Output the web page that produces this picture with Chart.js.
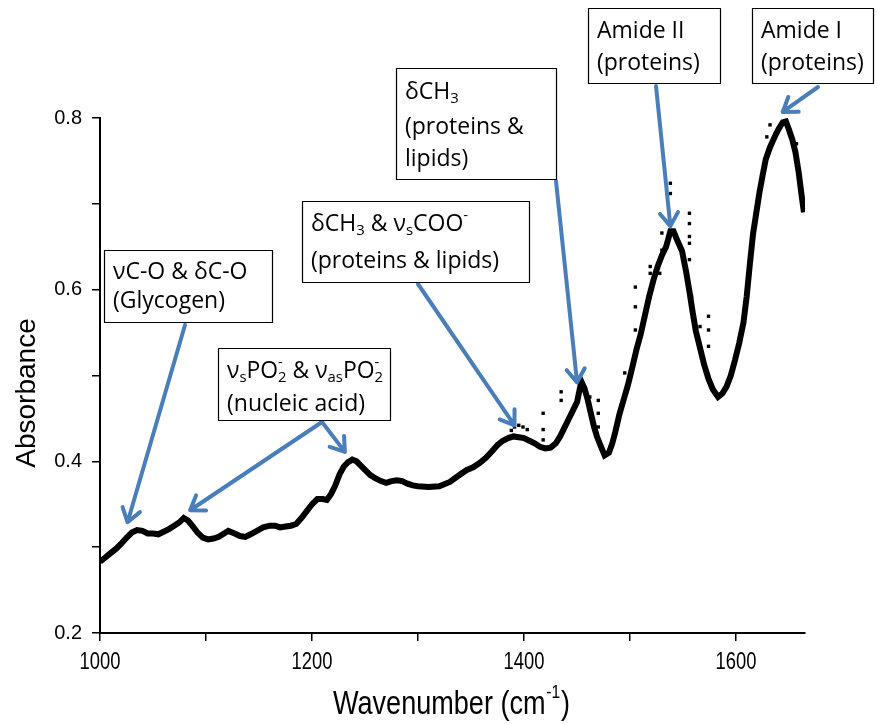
<!DOCTYPE html>
<html>
<head>
<meta charset="utf-8">
<script src="https://cdn.jsdelivr.net/npm/chart.js@4.4.0/dist/chart.umd.min.js"></script>
<style>
  body { margin: 0; background: #fff; }
  #wrap { width: 877px; height: 724px; }
</style>
</head>
<body>
<div id="wrap"><canvas id="myChart" width="877" height="724"></canvas></div>
<script>
// spectrum
const wavenumbers = [1000, 1005, 1010, 1015, 1020, 1025, 1030, 1035, 1040, 1045, 1050, 1055, 1060, 1065, 1070, 1075, 1079, 1083, 1087, 1092,
  1097, 1102, 1107, 1112, 1117, 1121, 1127, 1132, 1137, 1142, 1148, 1154, 1160, 1165, 1170, 1175, 1180, 1185, 1190, 1195,
  1200, 1205, 1210, 1214, 1218, 1222, 1226, 1230, 1234, 1238, 1242, 1246, 1250, 1255, 1260, 1265, 1270, 1275, 1280, 1285,
  1290, 1295, 1300, 1310, 1320, 1330, 1340, 1346, 1352, 1358, 1364, 1370, 1375, 1380, 1385, 1390, 1395, 1400, 1405, 1410,
  1415, 1420, 1425, 1430, 1434, 1438, 1442, 1446, 1450, 1454, 1457, 1460, 1463, 1466, 1469, 1472, 1476, 1480, 1483, 1486,
  1490, 1494, 1498, 1502, 1506, 1510, 1514, 1518, 1522, 1526, 1530, 1534, 1538, 1541, 1545, 1549, 1553, 1556, 1559, 1562,
  1566, 1570, 1574, 1578, 1583, 1587, 1591, 1595, 1599, 1603, 1607, 1610, 1613, 1616, 1619, 1622, 1625, 1628, 1632, 1636,
  1640, 1644, 1647, 1650, 1653, 1656, 1659, 1662, 1664];
const absorbance = [0.283, 0.288, 0.293, 0.298, 0.304, 0.311, 0.317, 0.320, 0.319, 0.316, 0.316, 0.315, 0.318, 0.321, 0.325, 0.329, 0.334, 0.331, 0.325, 0.317,
  0.311, 0.309, 0.310, 0.312, 0.316, 0.319, 0.316, 0.313, 0.312, 0.315, 0.319, 0.323, 0.325, 0.325, 0.323, 0.324, 0.325, 0.327, 0.334, 0.342,
  0.350, 0.356, 0.356, 0.355, 0.362, 0.372, 0.385, 0.394, 0.399, 0.402, 0.400, 0.395, 0.390, 0.384, 0.380, 0.377, 0.375, 0.377, 0.378, 0.377,
  0.374, 0.372, 0.371, 0.370, 0.371, 0.376, 0.385, 0.390, 0.393, 0.398, 0.404, 0.412, 0.419, 0.424, 0.427, 0.429, 0.428, 0.427, 0.424, 0.421,
  0.417, 0.415, 0.416, 0.421, 0.429, 0.439, 0.449, 0.459, 0.469, 0.493, 0.485, 0.472, 0.456, 0.440, 0.428, 0.419, 0.407, 0.410, 0.420, 0.434,
  0.455, 0.472, 0.489, 0.509, 0.530, 0.548, 0.570, 0.592, 0.611, 0.627, 0.640, 0.650, 0.668, 0.668, 0.656, 0.645, 0.620, 0.598, 0.574, 0.552,
  0.532, 0.512, 0.496, 0.484, 0.475, 0.479, 0.487, 0.500, 0.518, 0.538, 0.562, 0.592, 0.630, 0.665, 0.689, 0.713, 0.733, 0.752, 0.766, 0.777,
  0.787, 0.795, 0.796, 0.786, 0.775, 0.760, 0.737, 0.708, 0.690];

// stray points that sit off the main trace
const strayWavenumbers = [1388, 1391, 1395, 1399, 1403, 1418, 1418, 1418, 1435, 1435, 1462, 1462, 1470, 1470, 1470, 1495,
  1505, 1505, 1505, 1519, 1519, 1528, 1530, 1530, 1538, 1538, 1556, 1556, 1556, 1556, 1556, 1558, 1566, 1574, 1574, 1574,
  1629, 1632, 1637, 1657, 1660];
const strayAbsorbance = [0.436, 0.440, 0.442, 0.440, 0.437, 0.456, 0.437, 0.425, 0.481, 0.471, 0.475, 0.464, 0.471, 0.456, 0.440, 0.503,
  0.603, 0.580, 0.553, 0.627, 0.619, 0.619, 0.666, 0.646, 0.724, 0.712, 0.689, 0.677, 0.662, 0.654, 0.635, 0.592, 0.557, 0.569, 0.553, 0.534,
  0.778, 0.792, 0.782, 0.770, 0.732];

const xTickValues = [1000, 1100, 1200, 1300, 1400, 1500, 1600];
const xLabelValues = [1000, 1200, 1400, 1600];
const yTickValues = [0.2, 0.3, 0.4, 0.5, 0.6, 0.7, 0.8];
const yLabelValues = [0.2, 0.4, 0.6, 0.8];

const arrowColor = '#4A7EBB';
const boxFont = '"Open Sans", "Noto Sans", sans-serif';
const axisFont = '"Liberation Sans", Arial, sans-serif';

// label boxes (pixel layout) and the data points their arrows aim at
const boxes = [
  { left: 104, top: 250, right: 272, bottom: 322, lines: [['νC-O & δC-O', 272], ['(Glycogen)', 301]] },
  { left: 218, top: 348, right: 390, bottom: 420, lines: [['ν_{s}PO_{2}^{-} & ν_{as}PO_{2}^{-}', 371], ['(nucleic acid)', 404]] },
  { left: 302, top: 201, right: 529, bottom: 282, lines: [['δCH_{3} & ν_{s}COO^{-}', 224], ['(proteins & lipids)', 261]] },
  { left: 396, top: 68, right: 556, bottom: 179, lines: [['δCH_{3}', 92], ['(proteins &', 127], ['lipids)', 159]] },
  { left: 588, top: 8, right: 720, bottom: 83, lines: [['Amide II', 31], ['(proteins)', 63]] },
  { left: 752, top: 8, right: 873, bottom: 83, lines: [['Amide I', 31], ['(proteins)', 63]] }
];
const arrows = [
  { from: [185, 325], tip: [1026, 0.329] },
  { from: [322, 422], tip: [1085, 0.343] },
  { from: [322, 422], tip: [1231, 0.411] },
  { from: [418, 284], tip: [1391, 0.442] },
  { from: [556, 181], tip: [1450, 0.492] },
  { from: [656, 86], tip: [1538, 0.674] },
  { from: [818, 87], tip: [1644, 0.807] }
];

function richParts(text) {
  const re = /_\{([^}]*)\}|\^\{([^}]*)\}|([^_^]+)/g;
  const parts = [];
  let m;
  while ((m = re.exec(text)) !== null) {
    if (m[1] !== undefined) parts.push({ t: m[1], k: 'sub' });
    else if (m[2] !== undefined) parts.push({ t: m[2], k: 'sup' });
    else parts.push({ t: m[3], k: 'n' });
  }
  return parts;
}

// lays out (or measures) a line with subscripts/superscripts; returns its width
function drawRich(ctx, text, x, y, size, family, measureOnly) {
  let cx = x, lastSubX = null;
  ctx.textBaseline = 'middle';
  ctx.textAlign = 'left';
  richParts(text).forEach(p => {
    if (p.k === 'n') {
      ctx.font = size + 'px ' + family;
      if (!measureOnly) ctx.fillText(p.t, cx, y);
      cx += ctx.measureText(p.t).width;
      lastSubX = null;
    } else if (p.k === 'sub') {
      ctx.font = (size * 0.65) + 'px ' + family;
      if (!measureOnly) ctx.fillText(p.t, cx, y + size * 0.3);
      lastSubX = cx;
      cx += ctx.measureText(p.t).width;
    } else {
      ctx.font = (size * 0.65) + 'px ' + family;
      const w = ctx.measureText(p.t).width;
      const sx = lastSubX !== null ? lastSubX : cx;
      if (!measureOnly) ctx.fillText(p.t, sx, y - size * 0.38);
      cx = Math.max(cx, sx + w);
      lastSubX = null;
    }
  });
  return cx - x;
}

function drawArrow(ctx, x0, y0, x1, y1) {
  const ang = Math.atan2(y1 - y0, x1 - x0);
  const head = 16, spread = 0.6;
  ctx.beginPath();
  ctx.moveTo(x0, y0);
  ctx.lineTo(x1, y1);
  ctx.moveTo(x1 - head * Math.cos(ang - spread), y1 - head * Math.sin(ang - spread));
  ctx.lineTo(x1, y1);
  ctx.lineTo(x1 - head * Math.cos(ang + spread), y1 - head * Math.sin(ang + spread));
  ctx.stroke();
}

const notes = {
  id: 'notes',
  afterDraw(chart) {
    const { ctx, scales: { x, y } } = chart;
    ctx.save();
    ctx.strokeStyle = arrowColor;
    ctx.lineWidth = 4;
    ctx.lineCap = 'round';
    ctx.lineJoin = 'round';
    arrows.forEach(a => {
      drawArrow(ctx, a.from[0], a.from[1], x.getPixelForValue(a.tip[0]), y.getPixelForValue(a.tip[1]));
    });
    boxes.forEach(b => {
      ctx.fillStyle = '#fff';
      ctx.fillRect(b.left, b.top, b.right - b.left, b.bottom - b.top);
      ctx.strokeStyle = '#000';
      ctx.lineWidth = 1.2;
      ctx.strokeRect(b.left + 0.5, b.top + 0.5, b.right - b.left, b.bottom - b.top);
      ctx.fillStyle = '#000';
      const avail = b.right - b.left - 16;
      b.lines.forEach(l => {
        const size = 23;
        const w = drawRich(ctx, l[0], 0, 0, size, boxFont, true);
        const k = w > avail ? avail / w : 1;
        ctx.save();
        ctx.translate(b.left + 9, l[1]);
        ctx.scale(k, 1);
        drawRich(ctx, l[0], 0, 0, size, boxFont, false);
        ctx.restore();
      });
    });

    // x tick labels, condensed like the original
    ctx.fillStyle = '#000';
    xLabelValues.forEach(v => {
      ctx.save();
      ctx.translate(x.getPixelForValue(v), 663);
      ctx.scale(0.8, 1);
      ctx.font = '23px ' + axisFont;
      ctx.textAlign = 'center';
      ctx.textBaseline = 'middle';
      ctx.fillText(String(v), 0, 0);
      ctx.restore();
    });

    // axis titles
    ctx.save();
    ctx.translate(27, 393);
    ctx.rotate(-Math.PI / 2);
    ctx.font = '28px ' + axisFont;
    ctx.textAlign = 'center';
    ctx.textBaseline = 'middle';
    ctx.fillText('Absorbance', 0, 0);
    ctx.restore();

    ctx.save();
    ctx.translate(333, 705);
    ctx.scale(0.82, 1);
    ctx.font = '33px ' + axisFont;
    ctx.textAlign = 'left';
    ctx.textBaseline = 'middle';
    const main = 'Wavenumber (cm';
    ctx.fillText(main, 0, 0);
    let w = ctx.measureText(main).width;
    ctx.font = '19px ' + axisFont;
    ctx.fillText('-1', w + 1, -12);
    w += ctx.measureText('-1').width + 2;
    ctx.font = '33px ' + axisFont;
    ctx.fillText(')', w, 0);
    ctx.restore();
    ctx.restore();
  }
};

const ctx = document.getElementById('myChart').getContext('2d');
const myChart = new Chart(ctx, {
  type: 'scatter',
  data: {
    datasets: [{
      label: 'Spectrum',
      data: wavenumbers.map((w, i) => ({ x: w, y: absorbance[i] })),
      showLine: true,
      borderColor: '#000',
      backgroundColor: '#000',
      borderWidth: 6,
      pointRadius: 0,
      tension: 0
    }, {
      label: 'Stray points',
      data: strayWavenumbers.map((w, i) => ({ x: w, y: strayAbsorbance[i] })),
      pointStyle: 'rect',
      pointRadius: 2.4,
      borderWidth: 0,
      backgroundColor: '#000'
    }]
  },
  options: {
    responsive: false,
    animation: false,
    layout: { padding: { left: 0, right: 72, top: 118, bottom: 0 } },
    plugins: { legend: { display: false }, tooltip: { enabled: false } },
    scales: {
      x: {
        type: 'linear',
        min: 1000,
        max: 1665,
        afterBuildTicks: s => { s.ticks = xTickValues.map(v => ({ value: v })); },
        afterFit: s => { s.height = 91; },
        grid: { drawOnChartArea: false, drawTicks: true, tickLength: 8, color: '#000', lineWidth: 1.5 },
        border: { display: true, color: '#000', width: 2 },
        ticks: {
          color: '#000',
          maxRotation: 0,
          autoSkip: false,
          callback: () => ''
        }
      },
      y: {
        min: 0.2,
        max: 0.8,
        afterBuildTicks: s => { s.ticks = yTickValues.map(v => ({ value: v })); },
        afterFit: s => { s.width = 100; },
        grid: { drawOnChartArea: false, drawTicks: true, tickLength: 8, color: '#000', lineWidth: 1.5 },
        border: { display: true, color: '#000', width: 2 },
        ticks: {
          padding: 10,
          color: '#000',
          autoSkip: false,
          font: { family: axisFont, size: 20 },
          callback: v => {
            const hit = yLabelValues.find(l => Math.abs(l - v) < 1e-9);
            return hit !== undefined ? hit.toFixed(1) : '';
          }
        }
      }
    }
  },
  plugins: [notes]
});
</script>
</body>
</html>
